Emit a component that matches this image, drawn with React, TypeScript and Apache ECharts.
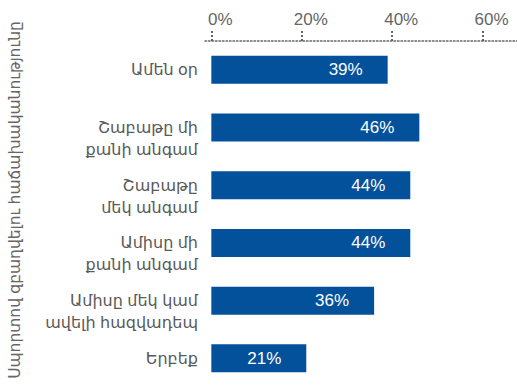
import React, { useEffect, useRef } from "react";
import * as echarts from "echarts";

const categories = [
  "Ամեն օր",
  "Շաբաթը մի\nքանի անգամ",
  "Շաբաթը\nմեկ անգամ",
  "Ամիսը մի\nքանի անգամ",
  "Ամիսը մեկ կամ\nավելի հազվադեպ",
  "Երբեք",
];
const values = [39, 46, 44, 44, 36, 21];
const tickValues = [0, 20, 40, 60];
const axisTitle = "Սպորտով զբաղվելու հաճախականությունը";

const FONT = "'Liberation Sans', Arial, 'DejaVu Sans', sans-serif";

export default function App() {
  const ref = useRef<HTMLDivElement>(null);
  useEffect(() => {
    document.body.style.margin = "0";
    if (!ref.current) return;
    const chart = echarts.init(ref.current, null, { renderer: "svg" });
    chart.setOption({
      animation: false,
      grid: { left: 205, right: 0, top: 41, bottom: -13, containLabel: false },
      xAxis: {
        type: "value",
        position: "top",
        min: -1.4,
        max: 67.6,
        splitLine: { show: false },
        axisLine: {
          show: true,
          lineStyle: { color: "#666", width: 1.5, type: [1.5, 2] },
        },
        axisTick: {
          show: true,
          customValues: tickValues,
          length: 10,
          lineStyle: { color: "#666", width: 2, type: [2, 2] },
        },
        axisLabel: {
          customValues: tickValues,
          formatter: (v: number) => `${v}%`,
          color: "#666",
          fontSize: 17,
          fontFamily: FONT,
          margin: 13,
          padding: [0, 0, 0, 18],
        },
      },
      yAxis: {
        type: "category",
        data: categories,
        inverse: true,
        axisLine: { show: false },
        axisTick: { show: false },
        axisLabel: {
          interval: 0,
          showMinLabel: true,
          showMaxLabel: true,
          hideOverlap: false,
          formatter: (v: string) => " \n" + (v.includes("\n") ? v : v + "\n "),
          color: "#595959",
          fontSize: 16,
          fontFamily: FONT,
          lineHeight: 22,
          align: "right",
          verticalAlign: "middle",
          margin: 7,
        },
      },
      series: [
        {
          type: "bar",
          data: values,
          barWidth: 28,
          itemStyle: { color: "#03519b" },
          label: {
            show: true,
            position: "insideRight",
            distance: 25,
            formatter: (p: any) => `${p.value}%`,
            color: "#fff",
            fontSize: 17,
            fontFamily: FONT,
          },
        },
      ],
      graphic: [
        {
          type: "text",
          x: 14,
          y: 200,
          rotation: Math.PI / 2,
          style: {
            text: axisTitle,
            fill: "#666",
            fontSize: 15.5,
            fontFamily: FONT,
            align: "center",
            verticalAlign: "middle",
          },
        },
      ],
    });
    return () => chart.dispose();
  }, []);
  return <div ref={ref} style={{ width: 517, height: 390 }} />;
}
